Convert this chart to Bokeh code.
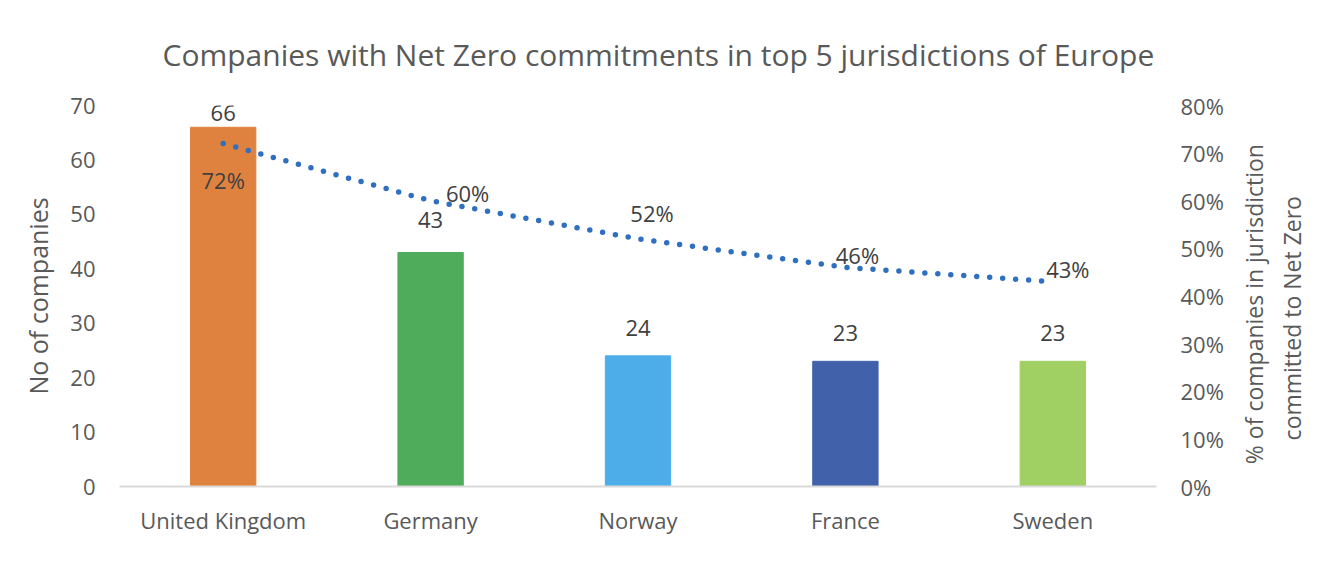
import math
from bokeh.plotting import figure
from bokeh.layouts import row
from bokeh.models import Range1d, LinearAxis, ColumnDataSource, NumeralTickFormatter, Title
from bokeh.core.properties import value
from bokeh.embed import file_html
from bokeh.resources import INLINE

countries = ["United Kingdom", "Germany", "Norway", "France", "Sweden"]
companies = [66, 43, 24, 23, 23]
pct_committed = [0.72, 0.60, 0.52, 0.46, 0.43]
bar_colors = ["#E0823F", "#4EAC5B", "#4DADE8", "#4162AA", "#A0CF63"]
left_ticks = [0, 10, 20, 30, 40, 50, 60, 70]
right_ticks = [0.0, 0.1, 0.2, 0.3, 0.4, 0.5, 0.6, 0.7, 0.8]
title_text = "Companies with Net Zero commitments in top 5 jurisdictions of Europe"
left_title = "No of companies"
right_title_lines = ["% of companies in jurisdiction", "committed to Net Zero"]

# label placement offsets (screen px)
bar_label_dy = [-14, -32, -28, -28, -28]
pct_label_dx = [0, 37, 14, 12, 15]
pct_label_dy = [36, -8, -26, -12, -13]

FONT = "Open Sans"
TXT = "#595959"

p = figure(x_range=countries, y_range=Range1d(0, 70), width=1236, height=566,
           output_backend="svg", toolbar_location=None, tools="",
           min_border_left=119, min_border_right=80, min_border_top=105, min_border_bottom=80)
p.title = Title(text=title_text, align="left", offset=43, standoff=62,
                text_font=FONT, text_font_size="30px", text_font_style="normal",
                text_color=TXT)
p.outline_line_color = None
p.xgrid.grid_line_color = None
p.ygrid.grid_line_color = None
p.background_fill_color = "white"
p.border_fill_color = "white"

p.extra_y_ranges = {"pct": Range1d(0, 0.8)}

src = ColumnDataSource(dict(country=countries, companies=companies, pct=pct_committed,
                            color=bar_colors,
                            bar_label=[str(v) for v in companies],
                            pct_label=[f"{round(v*100)}%" for v in pct_committed],
                            bdy=bar_label_dy, pdx=pct_label_dx, pdy=pct_label_dy))

p.vbar(x="country", top="companies", width=0.315, color="color", source=src)
p.line(x="country", y="pct", y_range_name="pct", source=src, line_color="#2F6FBF",
       line_width=5.5, line_dash="0 13", line_cap="round")

p.text(x="country", y="companies", text="bar_label", source=src, y_offset="bdy",
       text_align="center", text_baseline="middle", text_font=value(FONT),
       text_font_size="22px", text_color="#404040")
p.text(x="country", y="pct", text="pct_label", source=src, y_range_name="pct",
       x_offset="pdx", y_offset="pdy",
       text_align="center", text_baseline="middle", text_font=value(FONT),
       text_font_size="22px", text_color="#404040")

def style(ax):
    ax.major_tick_line_color = None
    ax.minor_tick_line_color = None
    ax.major_tick_out = 0
    ax.major_tick_in = 0
    ax.minor_tick_out = 0
    ax.major_label_text_font = FONT
    ax.major_label_text_font_size = "22px"
    ax.major_label_text_color = TXT
    ax.axis_label_text_font = FONT
    ax.axis_label_text_font_size = "25px"
    ax.axis_label_text_font_style = "normal"
    ax.axis_label_text_color = TXT

ya = p.yaxis[0]
style(ya)
ya.ticker = left_ticks
ya.axis_line_color = None
ya.axis_label = left_title
ya.major_label_standoff = 24
ya.axis_label_standoff = 12

ra = LinearAxis(y_range_name="pct", ticker=right_ticks, formatter=NumeralTickFormatter(format="0%"))
style(ra)
ra.axis_line_color = None
ra.major_label_standoff = 24
p.add_layout(ra, "right")

xa = p.xaxis[0]
style(xa)
xa.axis_line_color = "#D9D9D9"
xa.axis_line_width = 2
xa.major_label_standoff = 18

# right-hand axis title, drawn in a narrow companion panel (pixel coordinates)
p2 = figure(width=90, height=566, x_range=Range1d(0, 90), y_range=Range1d(0, 566),
            output_backend="svg", toolbar_location=None, tools="",
            x_axis_type=None, y_axis_type=None,
            min_border_left=0, min_border_right=0, min_border_top=0, min_border_bottom=0)
p2.outline_line_color = None
p2.xgrid.grid_line_color = None
p2.ygrid.grid_line_color = None
p2.background_fill_color = "white"
p2.border_fill_color = "white"
p2.text(x=[17, 55], y=[271, 250], text=right_title_lines, angle=math.pi / 2,
        text_align="center", text_baseline="middle", text_font=value(FONT),
        text_font_size="23px", text_color=TXT)

layout = row(p, p2, spacing=0)
open("out.html", "w").write(file_html(layout, INLINE))
